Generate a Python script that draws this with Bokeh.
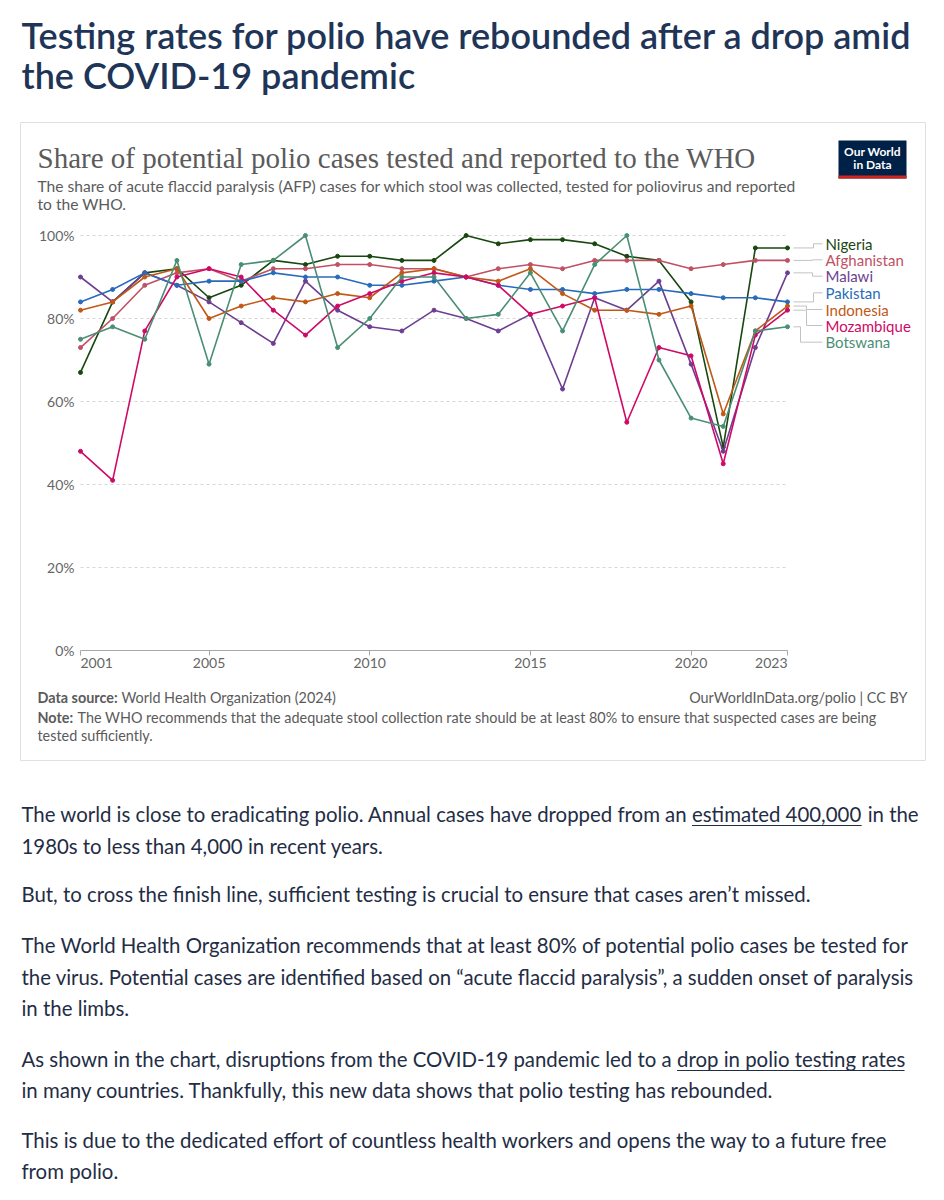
from bokeh.plotting import figure
from bokeh.models import Range1d, FixedTicker, LinearAxis
from bokeh.layouts import column
from bokeh.embed import file_html
from bokeh.resources import INLINE
from bokeh.core.properties import value

# ---------------- data ----------------
years = list(range(2001, 2024))
countries = ["Nigeria", "Afghanistan", "Malawi", "Pakistan", "Indonesia", "Mozambique", "Botswana"]
nigeria     = [67, 84, 91, 92, 85, 88, 94, 93, 95, 95, 94, 94, 100, 98, 99, 99, 98, 95, 94, 84, 49, 97, 97]
afghanistan = [73, 80, 88, 91, 92, 89, 92, 92, 93, 93, 92, 92, 90, 92, 93, 92, 94, 94, 94, 92, 93, 94, 94]
malawi      = [90, 84, 91, 88, 84, 79, 74, 89, 82, 78, 77, 82, 80, 77, 81, 63, 85, 82, 89, 69, 48, 73, 91]
pakistan    = [84, 87, 91, 88, 89, 89, 91, 90, 90, 88, 88, 89, 90, 88, 87, 87, 86, 87, 87, 86, 85, 85, 84]
indonesia   = [82, 84, 90, 92, 80, 83, 85, 84, 86, 85, 91, 92, 90, 89, 92, 86, 82, 82, 81, 83, 57, 77, 83]
mozambique  = [48, 41, 77, 90, 92, 90, 82, 76, 83, 86, 89, 91, 90, 88, 81, 83, 85, 55, 73, 71, 45, 76, 82]
botswana    = [75, 78, 75, 94, 69, 93, 94, 100, 73, 80, 90, 90, 80, 81, 91, 77, 93, 100, 70, 56, 54, 77, 78]
series = [nigeria, afghanistan, malawi, pakistan, indonesia, mozambique, botswana]
colors = ["#18470F", "#C15065", "#6D3E91", "#286BBB", "#C05917", "#CF0A66", "#4A8F73"]
x_ticks = [2001, 2005, 2010, 2015, 2020, 2023]
y_ticks = [0, 20, 40, 60, 80, 100]

LATO = value("Lato")
GREY = "#5b5b5b"
TITLE_C = "#1f3558"
BODY_C = "#1f2d45"

# ---------- layout helpers (page pixels -> chart data units) ----------
PPY = (787 - 80) / 22.0
PPV = (650 - 235) / 100.0
def X(px):
    return 2001 + (px - 80) / PPY
def Y(py):
    return (650 - py) / PPV


def blank(w, h, **kw):
    p = figure(width=w, height=h, x_range=Range1d(0, w), y_range=Range1d(h, 0),
               x_axis_type=None, y_axis_type=None, toolbar_location=None,
               output_backend="svg", min_border=0, outline_line_color=None, **kw)
    return p

# ---------------- header ----------------
header = blank(928, 113, margin=(8, 0, 0, 8))
header.text(x=[12, 12], y=[26, 66],
            text=["Testing rates for polio have rebounded after a drop amid", "the COVID-19 pandemic"],
            text_font=value("Lato Semibold, Lato"), text_font_size="36px",
            text_color=TITLE_C, text_baseline="middle")

# ---------------- chart ----------------
chart = figure(width=907, height=640, min_border=1,
               x_range=Range1d(X(20), X(925)), y_range=Range1d(Y(760), Y(122)),
               x_axis_type=None, y_axis_type=None, toolbar_location=None,
               output_backend="svg", outline_line_color="#e0e0e0", margin=(0, 0, 0, 19))

xaxis = LinearAxis(fixed_location=0, ticker=FixedTicker(ticks=x_ticks), bounds=(2001, 2023),
                   axis_line_color="#a8a8a8", major_tick_line_color="#a8a8a8",
                   major_tick_out=5, major_tick_in=0, minor_tick_line_color=None,
                   major_label_standoff=2, major_label_text_font="Lato",
                   major_label_text_font_size="14px", major_label_text_color="#666666",
                   major_label_overrides={2001: "", 2023: ""})
chart.add_layout(xaxis, "below")
yaxis = LinearAxis(fixed_location=2001, ticker=FixedTicker(ticks=y_ticks),
                   axis_line_color=None, major_tick_line_color=None, minor_tick_line_color=None,
                   major_tick_out=0, major_tick_in=0,
                   major_label_standoff=6, major_label_text_font="Lato",
                   major_label_text_font_size="14px", major_label_text_color="#666666",
                   major_label_overrides={t: f"{t}%" for t in y_ticks})
chart.add_layout(yaxis, "left")

# gridlines (dashed) spanning the data extent
gy = y_ticks[1:]
chart.segment(x0=[x_ticks[0]] * len(gy), x1=[x_ticks[-1]] * len(gy), y0=gy, y1=gy,
              line_color="#d6d6d6", line_width=1, line_dash="3 3")

# first/last year labels aligned to the ends like the original
chart.text(x=[x_ticks[0]], y=[0], text=[str(x_ticks[0])], text_font=LATO, text_font_size="14px",
           text_color="#666666", text_align="left", text_baseline="top", y_offset=7)
chart.text(x=[x_ticks[-1]], y=[0], text=[str(x_ticks[-1])], text_font=LATO, text_font_size="14px",
           text_color="#666666", text_align="right", text_baseline="top", y_offset=7)

for vals, c in zip(series, colors):
    chart.line(years, vals, line_color=c, line_width=1.6)
    chart.scatter(years, vals, size=4, fill_color=c, line_color=c)

# end labels with connectors
label_py = [243.3, 259.3, 275.7, 292.3, 309.0, 325.0, 341.7]
bend_px = [813, 812, 812, 813, 806, 806, 800]
xs, ys = [], []
for vals, lp, b in zip(series, label_py, bend_px):
    xs.append([X(793), X(b), X(b), X(822)])
    ys.append([vals[-1], vals[-1], Y(lp), Y(lp)])
chart.multi_line(xs, ys, line_color="#c2c2c2", line_width=1)
chart.text(x=[X(825)] * len(countries), y=[Y(v) for v in label_py], text=countries,
           text_color=colors, text_font=LATO, text_font_size="15px", text_baseline="middle")

# titles
chart.text(x=[X(37)], y=[Y(157)], text=["Share of potential polio cases tested and reported to the WHO"],
           text_font=value("Liberation Serif"), text_font_size="29px", text_color=GREY,
           text_baseline="middle")
chart.text(x=[X(37), X(37)], y=[Y(185), Y(203)],
           text=["The share of acute flaccid paralysis (AFP) cases for which stool was collected, tested for poliovirus and reported",
                 "to the WHO."],
           text_font=LATO, text_font_size="15.6px", text_color=GREY, text_baseline="middle")

# logo
chart.quad(left=[X(838)], right=[X(906)], top=[Y(140)], bottom=[Y(178)],
           fill_color="#002147", line_color=None)
chart.quad(left=[X(838)], right=[X(906)], top=[Y(175)], bottom=[Y(178)],
           fill_color="#ce261e", line_color=None)
chart.text(x=[X(872), X(872)], y=[Y(151), Y(164)], text=["Our World", "in Data"],
           text_font=LATO, text_font_size="12px", text_font_style="bold", text_color="white",
           text_align="center", text_baseline="middle")

# footer
chart.text(x=[X(37), X(37)], y=[Y(697), Y(717)], text=["Data source:", "Note:"],
           text_font=LATO, text_font_size="14.4px", text_font_style="bold", text_color=GREY,
           text_baseline="middle")
chart.text(x=[X(121), X(77), X(37)], y=[Y(697), Y(717), Y(735)],
           text=["World Health Organization (2024)",
                 "The WHO recommends that the adequate stool collection rate should be at least 80% to ensure that suspected cases are being",
                 "tested sufficiently."],
           text_font=LATO, text_font_size="14.4px", text_color=GREY, text_baseline="middle")
chart.text(x=[X(907)], y=[Y(697)], text=["OurWorldInData.org/polio | CC BY"],
           text_font=LATO, text_font_size="14.4px", text_color=GREY, text_baseline="middle",
           text_align="right")

# ---------------- body text ----------------
body = blank(928, 430, margin=(0, 0, 0, 8))
OFFY = 761
OFFX = 8
lines = [
    (20, 813, "The world is close to eradicating polio. Annual cases have dropped from an"),
    (692, 813, "estimated 400,000"),
    (868, 813, "in the"),
    (20, 845, "1980s to less than 4,000 in recent years."),
    (20, 893, "But, to cross the finish line, sufficient testing is crucial to ensure that cases aren\u2019t missed."),
    (20, 944, "The World Health Organization recommends that at least 80% of potential polio cases be tested for"),
    (20, 976, "the virus. Potential cases are identified based on \u201cacute flaccid paralysis\u201d, a sudden onset of paralysis"),
    (20, 1007, "in the limbs."),
    (20, 1058, "As shown in the chart, disruptions from the COVID-19 pandemic led to a"),
    (677, 1058, "drop in polio testing rates"),
    (20, 1089, "in many countries. Thankfully, this new data shows that polio testing has rebounded."),
    (20, 1139, "This is due to the dedicated effort of countless health workers and opens the way to a future free"),
    (20, 1170, "from polio."),
]
body.text(x=[l[0] - OFFX for l in lines], y=[l[1] - OFFY for l in lines], text=[l[2] for l in lines],
          text_font=LATO, text_font_size="20.4px", text_color=BODY_C, text_baseline="middle")
body.segment(x0=[692 - OFFX, 677 - OFFX], x1=[862 - OFFX, 905 - OFFX],
             y0=[825 - OFFY, 1070 - OFFY], y1=[825 - OFFY, 1070 - OFFY],
             line_color=BODY_C, line_width=1.2)

page = column(header, chart, body, spacing=0)
open("out.html", "w").write(file_html(page, INLINE))
